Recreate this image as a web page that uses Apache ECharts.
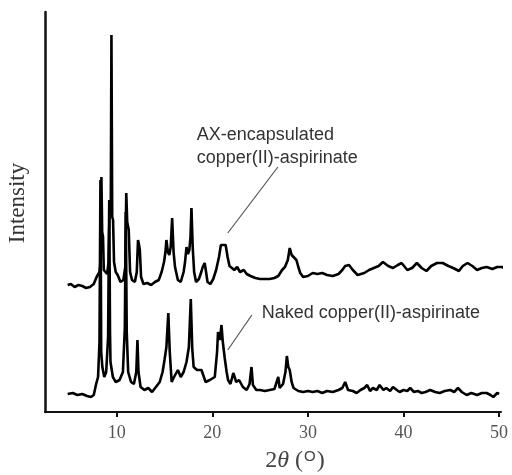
<!DOCTYPE html>
<html>
<head>
<meta charset="utf-8">
<script src="https://cdn.jsdelivr.net/npm/echarts@6/dist/echarts.min.js"></script>
<style>html,body{margin:0;padding:0;background:#fff}#c{width:512px;height:475px}</style>
</head>
<body>
<div id="c"></div>
<script>
// AX-encapsulated copper(II)-aspirinate (upper, offset trace)
const topX = [4.87,5.2,5.6,6.0,6.4,6.8,7.2,7.6,7.9,8.2,8.32,8.4,8.48,8.57,8.65,8.8,9.0,9.15,9.27,9.38,9.45,9.53,9.62,9.72,9.9,10.1,10.4,10.7,10.9,11.0,11.1,11.26,11.4,11.6,11.9,12.1,12.23,12.32,12.42,12.55,12.8,13.2,13.6,14.0,14.4,14.7,14.95,15.1,15.2,15.35,15.5,15.65,15.8,15.95,16.1,16.4,16.7,17.0,17.15,17.3,17.45,17.6,17.72,17.82,17.95,18.1,18.3,18.6,18.85,19.0,19.2,19.35,19.5,19.8,20.1,20.4,20.7,20.9,21.4,21.6,21.8,22.05,22.3,22.6,22.9,23.3,23.6,24.0,24.5,25.0,25.5,26.0,26.5,26.9,27.3,27.6,27.9,28.1,28.3,28.5,28.8,29.0,29.2,29.5,30.0,30.5,31.0,31.5,32.0,32.6,33.2,33.6,33.9,34.3,34.7,35.2,35.9,36.4,36.9,37.4,37.85,38.4,38.9,39.4,39.8,40.4,40.9,41.4,41.9,42.4,42.9,43.5,44.1,44.7,45.2,45.8,46.2,46.7,47.2,47.7,48.2,48.7,49.3,49.8,50.3,50.7];
const topY = [127,128,125,127,126,124,125,128,135,140,150,235,180,175,142,140,138,150,212,200,377,195,192,150,140,137,130,132,145,219,190,182,140,132,130,140,172,168,162,135,128,129,127,130,132,140,150,160,172,160,157,165,194,160,145,132,130,140,150,165,158,162,175,204,165,140,130,133,140,145,149,140,130,128,133,142,155,167,167,155,146,144,142,145,140,142,138,136,134,133,133,133,134,136,142,145,152,164,157,155,152,145,139,135,136,139,138,139,137,136,138,142,146,147,142,137,139,142,144,146,150,146,144,147,149,142,144,149,144,141,146,149,149,146,144,141,146,149,146,142,144,145,143,145,145,143];

// Naked copper(II)-aspirinate (lower trace)
const botX = [4.87,5.4,5.9,6.4,6.9,7.3,7.6,7.85,8.05,8.2,8.3,8.38,8.5,8.7,8.9,9.1,9.22,9.3,9.35,9.6,9.9,10.3,10.65,10.85,10.95,11.05,11.2,11.5,11.8,12.05,12.17,12.28,12.5,12.9,13.3,13.7,14.1,14.5,14.8,15.0,15.2,15.4,15.55,15.75,16.0,16.4,16.7,17.0,17.3,17.55,17.75,17.9,18.05,18.4,18.87,19.0,19.3,19.74,20.26,20.5,20.6,20.8,20.96,21.1,21.3,21.5,21.65,21.9,22.2,22.5,22.8,23.2,23.6,23.9,24.1,24.25,24.6,25.0,25.5,26.0,26.5,26.9,27.05,27.4,27.65,27.8,27.95,28.1,28.3,28.5,29.0,29.5,30.0,30.5,31.0,31.5,32.0,32.6,33.2,33.6,33.9,34.2,34.7,35.1,35.5,35.9,36.2,36.5,36.8,37.2,37.5,37.9,38.2,38.6,38.9,39.3,39.6,40.0,40.4,40.7,41.1,41.5,41.9,42.3,42.8,43.3,43.8,44.3,44.9,45.3,45.7,46.1,46.6,47.1,47.7,48.2,48.7,49.1,49.4,49.8,50.0];
const botY = [18,19,17,18,16,15,17,28,35,70,232,60,45,35,40,75,212,80,50,35,30,32,40,84,200,80,40,30,28,40,72,40,25,22,24,20,25,30,40,52,65,99,60,30,35,42,35,40,50,65,113,64,45,42,42,40,30,32,35,60,80,72,87,70,54,40,32,28,39,30,32,25,22,28,45,27,22,22,21,22,23,35,24,28,40,56,45,42,30,24,21,20,21,20,21,19,21,20,22,24,30,22,21,19,22,24,27,21,24,22,27,22,24,21,25,22,20,22,21,24,20,21,19,20,22,20,19,21,22,20,24,20,17,19,17,19,19,17,15,19,18];

const xTicks = [10, 20, 30, 40, 50];
const labelTop = 'AX-encapsulated\ncopper(II)-aspirinate';
const labelBot = 'Naked copper(II)-aspirinate';

function pairs(xs, ys) { return xs.map((x, i) => [x, ys[i]]); }

const chart = echarts.init(document.getElementById('c'), null, {renderer: 'canvas'});
const annoText = {color: '#333', fontFamily: 'Liberation Sans, Arial, sans-serif', fontSize: 18, lineHeight: 23};
chart.setOption({
  animation: false,
  backgroundColor: '#fff',
  grid: {left: 45, right: 11, top: 12, bottom: 63, containLabel: false, outerBoundsMode: 'none'},
  xAxis: {
    type: 'value', min: 2.5, max: 50.2,
    axisLine: {show: true, lineStyle: {color: '#111', width: 2}},
    axisTick: {show: true, customValues: xTicks, length: 5, inside: false, lineStyle: {color: '#111', width: 2}},
    axisLabel: {customValues: xTicks, margin: 12, color: '#555', fontFamily: 'Liberation Serif, Times New Roman, serif', fontSize: 18},
    splitLine: {show: false},
    name: '{n|2}{t|θ}{n| (}{s|O}{n|)}',
    nameLocation: 'middle', nameGap: 37,
    nameTextStyle: {
      padding: [0, 0, 0, 44],
      rich: {
        n: {fontFamily: 'Liberation Serif, serif', fontSize: 24, color: '#444'},
        t: {fontFamily: 'Liberation Serif, serif', fontStyle: 'italic', fontSize: 24, color: '#444'},
        s: {fontFamily: 'Liberation Sans, sans-serif', fontSize: 15, color: '#444', verticalAlign: 'top', padding: [0, 1, 8, 1]}
      }
    }
  },
  yAxis: {
    type: 'value', min: 0, max: 400,
    axisLine: {show: true, lineStyle: {color: '#111', width: 2.5}},
    axisTick: {show: false}, axisLabel: {show: false}, splitLine: {show: false},
    name: 'Intensity', nameLocation: 'middle', nameGap: 16, nameRotate: 90,
    nameTextStyle: {fontFamily: 'Liberation Serif, Times New Roman, serif', fontSize: 23, color: '#333', padding: [0, 0, 0, 18]}
  },
  series: [
    {
      type: 'line', data: pairs(topX, topY), showSymbol: false, clip: false,
      lineStyle: {color: '#000', width: 2.6}, z: 3,
      markLine: {silent: true, symbol: 'none', label: {show: false}, lineStyle: {color: '#555', width: 1.2, type: 'solid'},
        data: [[{coord: [26.86, 245]}, {coord: [21.62, 179]}]]},
      markPoint: {silent: true, symbol: 'circle', symbolSize: 0,
        label: Object.assign({show: true, position: 'right', distance: 0, align: 'left', formatter: labelTop}, annoText),
        data: [{coord: [18.38, 265.5]}]}
    },
    {
      type: 'line', data: pairs(botX, botY), showSymbol: false, clip: false,
      lineStyle: {color: '#000', width: 2.6}, z: 3,
      markLine: {silent: true, symbol: 'none', label: {show: false}, lineStyle: {color: '#555', width: 1.2, type: 'solid'},
        data: [[{coord: [24.14, 97]}, {coord: [21.62, 62]}]]},
      markPoint: {silent: true, symbol: 'circle', symbolSize: 0,
        label: Object.assign({show: true, position: 'right', distance: 0, align: 'left', formatter: labelBot}, annoText),
        data: [{coord: [25.18, 99]}]}
    }
  ]
});
</script>
</body>
</html>
